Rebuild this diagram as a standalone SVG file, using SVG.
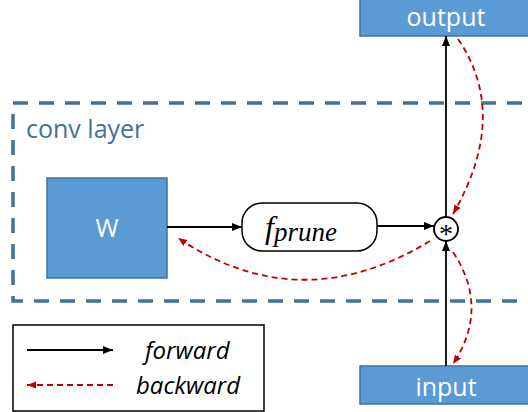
<svg xmlns="http://www.w3.org/2000/svg" width="528" height="412" viewBox="0 0 528 412">
<style>
.box{fill:#5B9BD5;stroke:#41719C;stroke-width:1.5}
.lbl{font-family:"Open Sans","Liberation Sans",sans-serif;fill:#fff;text-anchor:middle}
.fwd{fill:none;stroke:#000;stroke-width:1.8}
.bwd{fill:none;stroke:#C00000;stroke-width:1.8;stroke-dasharray:6,4}
.leg{font-family:"Open Sans","Liberation Sans",sans-serif;font-style:italic;font-size:24px;fill:#000}
</style>
<defs>
<marker id="ab" viewBox="0 0 10 10" refX="10" refY="5" markerWidth="10" markerHeight="10" markerUnits="userSpaceOnUse" orient="auto"><path d="M0,1 L10,5 L0,9 Z" fill="#000"/></marker>
<marker id="ar" viewBox="0 0 10 10" refX="10" refY="5" markerWidth="9" markerHeight="9" markerUnits="userSpaceOnUse" orient="auto"><path d="M0,1 L10,5 L0,9 Z" fill="#C00000"/></marker>
</defs>
<rect width="528" height="412" fill="#fff"/>
<g id="conv-layer">
<rect x="13" y="103" width="530" height="198" fill="none" stroke="#41719C" stroke-width="3.5" stroke-dasharray="15,11"/>
<text x="26" y="138" font-family="Open Sans,Liberation Sans,sans-serif" font-size="25" fill="#41719C">conv layer</text>
</g>
<g id="output">
<rect class="box" x="360" y="-2" width="175" height="38"/>
<text class="lbl" x="446" y="26" font-size="25">output</text>
</g>
<g id="input">
<rect class="box" x="360" y="366" width="175" height="38"/>
<text class="lbl" x="446" y="396" font-size="25">input</text>
</g>
<g id="W">
<rect class="box" x="47" y="178" width="120" height="100"/>
<text class="lbl" x="107" y="237" font-size="25">W</text>
</g>
<g id="fprune">
<rect x="242" y="203" width="135" height="48" rx="20" ry="20" fill="#fff" stroke="#000" stroke-width="1.5"/>
<text x="265" y="238" font-family="Liberation Serif,serif" font-style="italic" fill="#000"><tspan font-size="32">f</tspan><tspan font-size="27" dy="3">prune</tspan></text>
</g>
<g id="conv-op">
<circle cx="446" cy="229" r="12" fill="#fff" stroke="#000" stroke-width="1.8"/>
<text x="446" y="243" font-family="Liberation Serif,serif" font-size="28" text-anchor="middle" fill="#000">*</text>
</g>
<g id="connectors">
<path class="fwd" d="M167,227 L242,227" marker-end="url(#ab)"/>
<path class="fwd" d="M377,226 L434,226" marker-end="url(#ab)"/>
<path class="fwd" d="M446,217 L446,36" marker-end="url(#ab)"/>
<path class="fwd" d="M446,366 L446,241" marker-end="url(#ab)"/>
<path class="bwd" d="M458,39 Q510,115 453,214" marker-end="url(#ar)"/>
<path class="bwd" d="M430,241 Q300,320 178,238" marker-end="url(#ar)"/>
<path class="bwd" d="M453,252 Q490,308 453,364" marker-end="url(#ar)"/>
</g>
<g id="legend">
<rect x="13" y="325" width="251" height="86" fill="#fff" stroke="#000" stroke-width="1.5"/>
<path class="fwd" d="M27,350 L113,350" marker-end="url(#ab)"/>
<path class="bwd" d="M113,385 L27,385" marker-end="url(#ar)"/>
<text class="leg" x="145" y="359">forward</text>
<text class="leg" x="136" y="394">backward</text>
</g>
</svg>
